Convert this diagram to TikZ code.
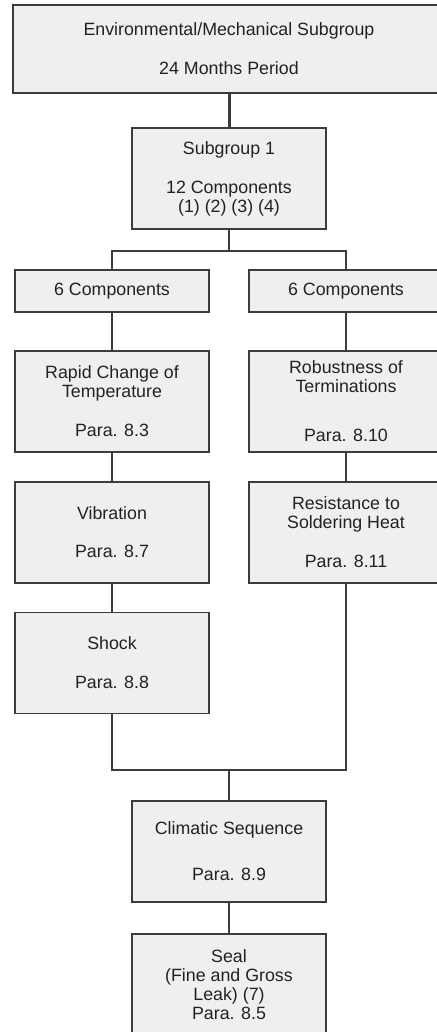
\documentclass[tikz,border=0pt]{standalone}
\usepackage{fontspec}
\setmainfont{Liberation Sans}
\usepackage{tikz}
\usetikzlibrary{calc}
\definecolor{boxline}{HTML}{3C3C3C}
\definecolor{boxfill}{HTML}{EFEFEF}
\definecolor{boxtext}{HTML}{222222}

\begin{document}
\begin{tikzpicture}[x=1pt,y=-1pt]
	\tikzstyle{box} = [draw=boxline, fill=boxfill, line width=1.5pt, minimum width=194pt, minimum height=101pt, inner sep=0pt, align=center, text=boxtext, font=\fontsize{17.8}{19}\selectfont]
	\tikzstyle{link} = [draw=boxline, line width=1.5pt]
	\useasboundingbox (0,0) rectangle (436,1032);
	% boxes
	\node[box, minimum width=432pt, minimum height=88pt] (period) at (229,49) {Environmental/Mechanical Subgroup\\[20pt]24 Months Period};
	\node[box] (sub) at (229,178.5) {Subgroup 1\\[20pt]12 Components\\(1) (2) (3) (4)};
	\node[box, minimum height=42pt] (compL) at (112,291) {6 Components};
	\node[box, minimum height=42pt] (compR) at (346,291) {6 Components};
	\node[box] (rapid) at (112,401.5) {Rapid Change of\\Temperature\\[20pt]Para. 8.3};
	\node[box] (robust) at (346,401.5) {Robustness of\\Terminations\\[30pt]Para. 8.10};
	\node[box] (vib) at (112,532.5) {Vibration\\[19pt]Para. 8.7};
	\node[box] (solder) at (346,532.5) {Resistance to\\Soldering Heat\\[20pt]Para. 8.11};
	\node[box] (shock) at (112,663) {Shock\\[20pt]Para. 8.8};
	\node[box] (clim) at (229,851.5) {Climatic Sequence\\[27pt]Para. 8.9};
	\node[box, minimum height=102pt] (seal) at (229,985) {Seal\\(Fine and Gross\\Leak) (7)\\Para. 8.5};
	\coordinate (split) at (229,251);
	\coordinate (join) at (229,770);
	% links
	\draw[link, line width=3pt] (period) -- (sub);
	\draw[link, line width=2.5pt] (sub) -- (split);
	\draw[link] (compL.north) |- (split) -| (compR.north);
	\draw[link] (compL) -- (rapid);
	\draw[link] (rapid) -- (vib);
	\draw[link] (vib) -- (shock);
	\draw[link] (compR) -- (robust);
	\draw[link] (robust) -- (solder);
	\draw[link] (shock.south) |- (join) -| (solder.south);
	\draw[link] (join) -- (clim);
	\draw[link] (clim) -- (seal);
\end{tikzpicture}
\end{document}
